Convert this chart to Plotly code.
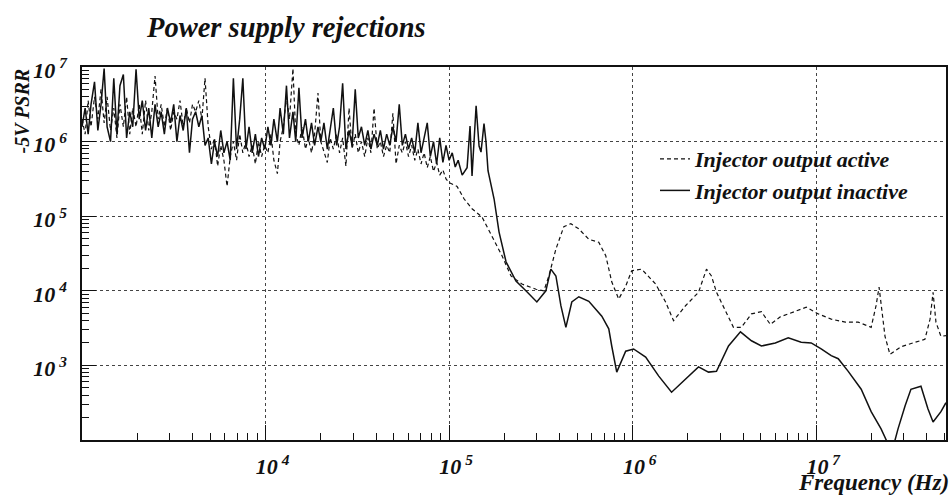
import plotly.graph_objects as go

# ---------------- data ----------------
# shared frequency grid of the noisy low-frequency region (Hz)
freq_noisy = [1000, 1040, 1080, 1120, 1170, 1220, 1270, 1320, 1370, 1430,
              1490, 1550, 1610, 1680, 1750, 1820, 1890, 1970, 2050, 2130,
              2220, 2310, 2400, 2500, 2600, 2700, 2810, 2920, 3040, 3160,
              3290, 3420, 3560, 3700, 3850, 4000, 4160, 4330, 4500, 4680,
              4870, 5070, 5270, 5480, 5700, 5930, 6170, 6420, 6680, 6950,
              7230, 7520, 7820, 8130, 8460, 8800, 9150, 9520, 9900, 10300,
              10700, 11100, 11600, 12000, 12500, 13000, 13500, 14100, 14600, 15200,
              15800, 16500, 17100, 17800, 18500, 19300, 20000, 20800, 21700, 22500,
              23400, 24400, 25300, 26300, 27400, 28500, 29600, 30800, 32000, 33300,
              34700, 36100, 37500, 39000, 40600, 42200, 43900, 45700, 47500, 49400,
              51400, 53500, 55600, 57800, 60100, 62500, 65000, 67600, 70300, 73100,
              76000, 79000, 82200, 85500, 88900, 92500, 96200, 100000]

# "Injector output inactive" (solid) on the noisy grid
psrr_inactive_noisy = [1.58e6, 2.82e6, 1.26e6, 3.16e6, 6.31e6, 1.41e6, 3.16e6, 9.55e6, 1.58e6, 1.0e6,
                       7.08e6, 1.26e6, 5.62e6, 7.94e6, 1.12e6, 2.51e6, 1.58e6, 9.33e6, 2.0e6, 3.55e6,
                       1.41e6, 2.82e6, 1.12e6, 3.16e6, 1.58e6, 2.51e6, 1.26e6, 2.82e6, 1.78e6, 3.16e6,
                       1.0e6, 2.24e6, 1.41e6, 2.82e6, 7.08e5, 2.0e6, 2.51e6, 1.58e6, 2.24e6, 8.91e5,
                       1.12e6, 5.01e5, 1.0e6, 6.31e5, 1.41e6, 7.08e5, 1.0e6, 5.62e5, 7.08e6, 7.94e5,
                       2.0e6, 7.08e6, 7.94e5, 1.58e6, 7.08e5, 1.26e6, 6.31e5, 1.12e6, 7.94e5, 1.58e6,
                       8.91e5, 2.0e6, 1.0e6, 2.82e6, 1.26e6, 5.62e6, 1.12e6, 2.51e6, 1.0e6, 5.25e6,
                       1.12e6, 2.0e6, 1.0e6, 1.78e6, 8.91e5, 1.58e6, 1.0e6, 1.78e6, 7.94e5, 1.41e6,
                       2.82e6, 8.91e5, 1.58e6, 6.03e6, 7.94e5, 1.41e6, 8.91e5, 5.01e6, 1.12e6, 1.58e6,
                       8.91e5, 1.41e6, 7.94e5, 1.26e6, 8.91e5, 1.41e6, 7.94e5, 1.26e6, 8.91e5, 1.58e6,
                       1.0e6, 3.16e6, 8.91e5, 1.26e6, 7.94e5, 1.12e6, 7.08e5, 1.78e6, 7.08e5, 1.12e6,
                       1.78e6, 6.31e5, 1.0e6, 5.01e5, 1.12e6, 5.25e5, 8.91e5, 5.62e5]

# "Injector output active" (dashed) on the noisy grid
psrr_active_noisy = [2.0e6, 1.26e6, 3.55e6, 1.58e6, 3.98e6, 2.0e6, 5.01e6, 1.78e6, 3.98e6, 1.41e6,
                     2.82e6, 1.12e6, 3.16e6, 1.58e6, 3.98e6, 1.26e6, 2.82e6, 1.58e6, 3.16e6, 1.26e6,
                     3.55e6, 1.41e6, 2.51e6, 7.59e6, 2.0e6, 3.16e6, 1.58e6, 2.82e6, 1.41e6, 2.51e6,
                     2.0e6, 3.55e6, 1.58e6, 2.82e6, 1.78e6, 3.16e6, 2.51e6, 3.55e6, 2.0e6, 7.08e6,
                     1.58e6, 7.94e5, 1.12e6, 4.68e5, 8.91e5, 5.62e5, 2.51e5, 6.31e5, 1.0e6, 5.62e5,
                     1.26e6, 7.08e5, 1.0e6, 6.31e5, 8.91e5, 5.01e5, 1.0e6, 6.31e5, 8.91e5, 7.08e5,
                     1.26e6, 5.62e5, 3.72e5, 1.0e6, 1.58e6, 3.98e6, 2.0e6, 9.55e6, 1.26e6, 8.91e5,
                     1.58e6, 7.94e5, 1.12e6, 7.08e5, 1.26e6, 4.47e6, 1.0e6, 7.08e5, 5.25e5, 1.12e6,
                     7.94e5, 1.26e6, 7.08e5, 1.12e6, 4.68e5, 2.82e6, 7.94e5, 1.26e6, 7.08e5, 1.0e6,
                     6.31e5, 1.12e6, 7.08e5, 2.82e6, 7.94e5, 1.0e6, 6.31e5, 8.91e5, 7.08e5, 2.40e6,
                     5.01e5, 8.91e5, 7.08e5, 1.0e6, 6.31e5, 8.91e5, 5.62e5, 7.94e5, 5.01e5, 7.08e5,
                     4.47e5, 6.31e5, 3.98e5, 5.25e5, 3.55e5, 4.17e5, 3.16e5, 2.82e5]

# high-frequency part, solid curve
freq_inactive_tail = [104000, 108000, 112000, 117800, 125300, 130000, 133300, 140300, 145600, 149200,
                      154900, 158800, 162900, 175800, 187000, 204200, 231300, 262000, 300600, 336600,
                      358300, 381800, 406400, 432700, 466000, 509000, 577000, 679000, 741000, 769000,
                      819000, 916000, 1.012e6, 1.177e6, 1.384e6, 1.629e6, 1.941e6, 2.284e6, 2.589e6, 2.862e6,
                      3.327e6, 3.866e6, 4.437e6, 5.027e6, 5.985e6, 7.04e6, 8.28e6, 9.39e6, 1.064e7, 1.207e7,
                      1.318e7, 1.494e7, 1.758e7, 1.992e7, 2.256e7, 2.46e7, 2.62e7, 2.79e7, 3.05e7, 3.28e7,
                      3.72e7, 4.06e7, 4.33e7, 4.78e7, 5.09e7]
psrr_inactive_tail = [7.08e5, 4.57e5, 5.62e5, 3.55e5, 4.47e5, 1.62e6, 3.47e5, 3.02e6, 8.71e5, 7.24e5,
                      1.74e6, 1.0e6, 4.07e5, 1.70e5, 6.17e4, 2.45e4, 1.35e4, 1.0e4, 7080, 1.0e4,
                      1.95e4, 1.58e4, 6310, 3240, 7080, 8320, 7240, 4570, 3090, 1820,
                      813, 1550, 1660, 1290, 724, 437, 661, 955, 813, 832,
                      1820, 2820, 2140, 1820, 2000, 2340, 2040, 2000, 1660, 1350,
                      1230, 832, 479, 240, 141, 89, 79, 141, 288, 479,
                      525, 263, 174, 240, 316]

# high-frequency part, dashed curve
freq_active_tail = [110500, 120800, 133300, 151000, 171300, 194200, 217300, 249400, 297300, 328300,
                    349500, 381800, 421700, 460300, 509000, 577000, 653600, 713700, 769000, 839400,
                    916000, 988000, 1.120e6, 1.334e6, 1.511e6, 1.670e6, 1.941e6, 2.284e6, 2.525e6, 2.687e6,
                    2.862e6, 3.201e6, 3.54e6, 3.91e6, 4.437e6, 5.027e6, 5.62e6, 6.37e6, 7.69e6, 8.83e6,
                    1.026e7, 1.207e7, 1.439e7, 1.692e7, 1.992e7, 2.118e7, 2.2e7, 2.256e7, 2.37e7, 2.52e7,
                    2.9e7, 3.45e7, 3.91e7, 4.17e7, 4.33e7, 4.49e7, 4.78e7, 5.09e7]
psrr_active_tail = [2.51e5, 1.70e5, 1.26e5, 9.77e4, 5.37e4, 2.95e4, 1.58e4, 1.23e4, 1.05e4, 1.0e4,
                    1.58e4, 3.63e4, 7.24e4, 7.94e4, 6.76e4, 4.90e4, 4.47e4, 2.95e4, 1.32e4, 7760,
                    1.15e4, 1.86e4, 1.95e4, 1.23e4, 7080, 3980, 6310, 9550, 1.95e4, 1.58e4,
                    9550, 5250, 3240, 3240, 4900, 5250, 3550, 4470, 5370, 6030,
                    4900, 4170, 3800, 3800, 3240, 6310, 1.12e4, 6310, 2450, 1410,
                    1780, 2040, 2240, 4170, 9550, 3800, 2450, 2510]

x_tick_vals = [1e4, 1e5, 1e6, 1e7]
x_tick_text = ["10<sup> 4</sup>", "10<sup> 5</sup>", "10<sup> 6</sup>", "10<sup> 7</sup>"]
y_tick_vals = [1e3, 1e4, 1e5, 1e6, 1e7]
y_tick_text = ["10<sup> 3</sup>", "10<sup> 4</sup>", "10<sup> 5</sup>", "10<sup> 6</sup>", "10<sup> 7</sup>"]

# ---------------- figure ----------------
FONT = "Liberation Serif"
W, H = 950, 497
ML, MR, MT, MB = 82, 4, 67, 57
PW, PH = W - ML - MR, H - MT - MB

fig = go.Figure()
fig.add_trace(go.Scatter(
    x=freq_noisy + freq_active_tail, y=psrr_active_noisy + psrr_active_tail,
    mode="lines", name="Injector output active",
    line=dict(color="#111111", width=1.2, dash="4px,3px")))
fig.add_trace(go.Scatter(
    x=freq_noisy + freq_inactive_tail, y=psrr_inactive_noisy + psrr_inactive_tail,
    mode="lines", name="Injector output inactive",
    line=dict(color="#111111", width=1.5)))

tickfont = dict(family=FONT, size=22, color="#111111", weight="bold", style="italic")
axis_common = dict(
    type="log", showline=True, linecolor="#111111", linewidth=1.5, mirror=True,
    ticks="inside", tickcolor="#111111", tickwidth=1, automargin=False,
    showgrid=True, gridcolor="#444444", gridwidth=1, griddash="dot",
    zeroline=False, tickfont=tickfont,
)

fig.update_xaxes(**axis_common, range=[3, 7.707], tickmode="array",
                 tickvals=x_tick_vals, ticktext=x_tick_text, ticklen=15,
                 ticklabelstandoff=6, ticklabelshift=7,
                 minor=dict(ticks="inside", ticklen=7, tickcolor="#111111", dtick="D1", showgrid=False))
fig.update_yaxes(**axis_common, range=[2, 7], tickmode="array",
                 tickvals=y_tick_vals, ticktext=y_tick_text, ticklen=14,
                 ticklabelstandoff=9, ticklabelshift=3,
                 minor=dict(ticks="inside", ticklen=7, tickcolor="#111111", dtick="D1", showgrid=False))

fig.update_layout(
    width=W, height=H,
    margin=dict(l=ML, r=MR, t=MT, b=MB, autoexpand=False),
    paper_bgcolor="white", plot_bgcolor="white",
    title=dict(text="Power supply rejections", x=147 / W, xanchor="left",
               y=1 - 27 / H, yanchor="middle", automargin=False,
               font=dict(family=FONT, size=28.5, color="#111111", weight="bold", style="italic")),
    showlegend=True,
    legend=dict(x=(655 - ML) / PW, y=(440 - 138) / PH, xanchor="left", yanchor="top",
                bgcolor="rgba(0,0,0,0)", borderwidth=0, itemwidth=30, tracegroupgap=0,
                font=dict(family=FONT, size=22, color="#111111", weight="bold", style="italic")),
    annotations=[
        dict(text="-5V PSRR", xref="paper", yref="paper",
             x=(21 - ML) / PW, y=1.0, xanchor="center", yanchor="top",
             textangle=-90, showarrow=False,
             font=dict(family=FONT, size=20, color="#111111", weight="bold", style="italic")),
        dict(text="Frequency (Hz)", xref="paper", yref="paper",
             x=(796 - ML) / PW, y=(440 - 482) / PH, xanchor="left", yanchor="middle",
             showarrow=False,
             font=dict(family=FONT, size=23, color="#111111", weight="bold", style="italic")),
    ],
)

fig.write_html("out.html", config={"displayModeBar": False},
               post_script="document.body.style.margin='0px';document.body.style.padding='0px';")
